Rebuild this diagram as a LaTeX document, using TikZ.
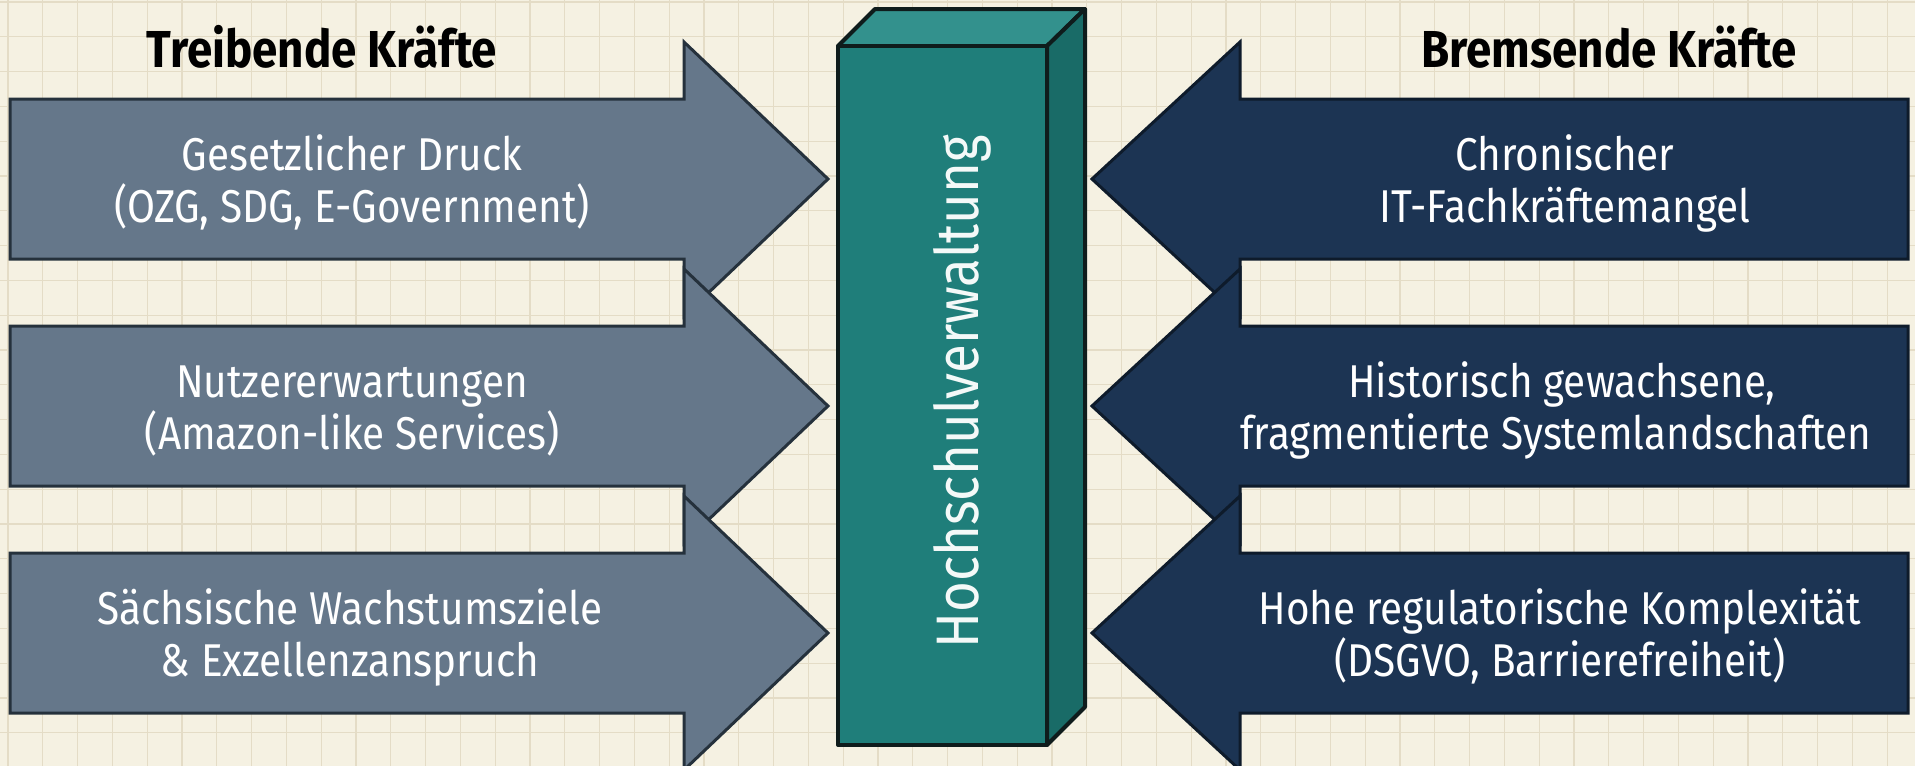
\documentclass[tikz,border=0pt]{standalone}
\usepackage{fontspec}
\setmainfont[FakeStretch=0.88]{Fira Sans}
\definecolor{paper}{HTML}{F5F1E2}
\definecolor{gridline}{HTML}{E4DCC6}
\definecolor{driveFill}{HTML}{65778A}
\definecolor{driveLine}{HTML}{25313C}
\definecolor{brakeFill}{HTML}{1C3453}
\definecolor{brakeLine}{HTML}{0E1B2B}
\definecolor{pillarFront}{HTML}{1F7E7A}
\definecolor{pillarSide}{HTML}{196B67}
\definecolor{pillarTop}{HTML}{33918D}
\definecolor{pillarLine}{HTML}{0F1C1C}
\tikzset{
  drivearrow/.style={fill=driveFill, draw=driveLine, line width=3pt, line join=miter},
  brakearrow/.style={fill=brakeFill, draw=brakeLine, line width=3pt, line join=miter},
  pillarface/.style={draw=pillarLine, line width=4pt, line join=round},
  forcetext/.style={text=white, anchor=base, font=\fontsize{46}{52}\selectfont, inner sep=0pt},
  headline/.style={text=black, anchor=base, font=\fontsize{52}{58}\selectfont\bfseries, inner sep=0pt},
  pillartext/.style={text=white!95!pillarFront, anchor=base, rotate=90, font=\fontsize{60}{66}\selectfont, inner sep=0pt}
}
\begin{document}
\begin{tikzpicture}[x=1pt, y=-1pt]
  \useasboundingbox (0,0) rectangle (1915,766);
  \begin{scope}
    \clip (0,0) rectangle (1915,766);
    % paper and grid
    \fill[paper] (0,0) rectangle (1915,766);
    \draw[gridline, line width=1.2pt, step=34.8pt, shift={(8pt,-2pt)}] (-8,-10) grid (1915,780);

    % headings
    \node[headline] (hdrive) at (322,67) {Treibende Kräfte};
    \node[headline] (hbrake) at (1609,67) {Bremsende Kräfte};

    % driving forces, pointing right
    \foreach \cy in {179,406,633} {
      \draw[drivearrow] (10,\cy-80) -- (684,\cy-80) -- (684,\cy-137) -- (828,\cy)
        -- (684,\cy+137) -- (684,\cy+80) -- (10,\cy+80) -- cycle;
    }
    % restraining forces, pointing left
    \foreach \cy in {179,406,633} {
      \draw[brakearrow] (1908,\cy-80) -- (1240,\cy-80) -- (1240,\cy-137) -- (1092,\cy)
        -- (1240,\cy+137) -- (1240,\cy+80) -- (1908,\cy+80) -- cycle;
    }

    % central block
    \draw[pillarface, fill=pillarTop] (838,46) -- (875,9) -- (1085,9) -- (1047,46) -- cycle;
    \draw[pillarface, fill=pillarSide] (1047,46) -- (1085,9) -- (1085,707) -- (1047,745) -- cycle;
    \draw[pillarface, fill=pillarFront] (838,46) rectangle (1047,745);
    \node[pillartext] (core) at (978,392) {Hochschulverwaltung};

    % labels of the driving forces
    \node[forcetext] (d1a) at (352,170) {Gesetzlicher Druck};
    \node[forcetext] (d1b) at (352,222) {(OZG, SDG, E-Government)};
    \node[forcetext] (d2a) at (352,397) {Nutzererwartungen};
    \node[forcetext] (d2b) at (352,449) {(Amazon-like Services)};
    \node[forcetext] (d3a) at (350,624) {Sächsische Wachstumsziele};
    \node[forcetext] (d3b) at (350,676) {\& Exzellenzanspruch};

    % labels of the restraining forces
    \node[forcetext] (b1a) at (1565,170) {Chronischer};
    \node[forcetext] (b1b) at (1565,222) {IT-Fachkräftemangel};
    \node[forcetext] (b2a) at (1562,397) {Historisch gewachsene,};
    \node[forcetext] (b2b) at (1556,449) {fragmentierte Systemlandschaften};
    \node[forcetext] (b3a) at (1560,624) {Hohe regulatorische Komplexität};
    \node[forcetext] (b3b) at (1560,676) {(DSGVO, Barrierefreiheit)};
  \end{scope}
\end{tikzpicture}
\end{document}
